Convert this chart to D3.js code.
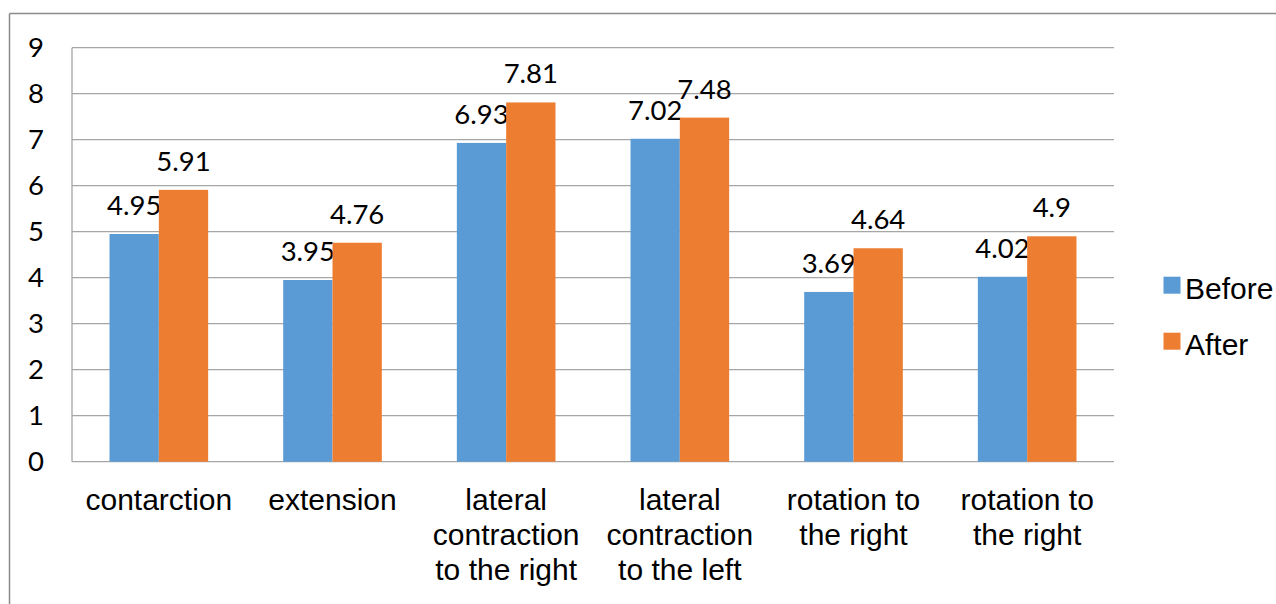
<!DOCTYPE html>
<html><head><meta charset="utf-8">
<script src="https://cdn.jsdelivr.net/npm/d3@7"></script>
<style>html,body{margin:0;padding:0;background:#fff;}svg{display:block;}</style>
</head><body>
<svg id="chart" width="1276" height="604"></svg>
<script>
const categories = [
  ["contarction"],
  ["extension"],
  ["lateral", "contraction", "to the right"],
  ["lateral", "contraction", "to the left"],
  ["rotation to", "the right"],
  ["rotation to", "the right"]
];
const seriesNames = ["Before", "After"];
const beforeValues = [4.95, 3.95, 6.93, 7.02, 3.69, 4.02];
const afterValues = [5.91, 4.76, 7.81, 7.48, 4.64, 4.9];
const yTicks = [0, 1, 2, 3, 4, 5, 6, 7, 8, 9];
const colors = ["#5B9BD5", "#ED7D31"];

const svg = d3.select("#chart");
const W = 1276, H = 604;
const plotLeft = 72, plotRight = 1114, plotTop = 47.7, plotBottom = 461.7;

// outer frame (top and left visible)
svg.append("line").attr("x1", 9.5).attr("x2", W).attr("y1", 13.5).attr("y2", 13.5)
  .attr("stroke", "#8c8c8c").attr("stroke-width", 1.5);
svg.append("line").attr("x1", 9.5).attr("x2", 9.5).attr("y1", 13.5).attr("y2", H)
  .attr("stroke", "#8c8c8c").attr("stroke-width", 1.5);

const idx = d3.range(categories.length);
const x0 = d3.scaleBand().domain(idx).range([plotLeft, plotRight]).paddingInner(0.432).paddingOuter(0.216);
const x1 = d3.scaleBand().domain([0, 1]).range([0, x0.bandwidth()]);
const y = d3.scaleLinear().domain([0, 9]).range([plotBottom, plotTop]);

// gridlines
svg.append("g").selectAll("line").data(yTicks).join("line")
  .attr("x1", plotLeft).attr("x2", plotRight)
  .attr("y1", d => y(d)).attr("y2", d => y(d))
  .attr("stroke", "#a6a6a6").attr("stroke-width", 1.3);

// y axis line
svg.append("line").attr("x1", plotLeft).attr("x2", plotLeft).attr("y1", y(9)).attr("y2", y(0))
  .attr("stroke", "#a6a6a6").attr("stroke-width", 1.3);

// y tick labels
const yAxis = d3.axisLeft(y).tickValues(yTicks).tickSize(0).tickPadding(28).tickFormat(d3.format("d"));
const ga = svg.append("g").attr("transform", `translate(${plotLeft},0)`).call(yAxis);
ga.select(".domain").remove();
ga.selectAll("text").attr("font-family", "Lato, 'Open Sans', sans-serif").attr("font-size", 27.5).attr("fill", "#000");

const series = [beforeValues, afterValues];
series.forEach((vals, s) => {
  const g = svg.append("g");
  g.selectAll("rect").data(vals).join("rect")
    .attr("x", (d, i) => x0(i) + x1(s))
    .attr("width", x1.bandwidth())
    .attr("y", d => y(d))
    .attr("height", d => y(0) - y(d))
    .attr("fill", colors[s]);
  g.selectAll("text").data(vals).join("text")
    .attr("x", (d, i) => x0(i) + x1(s) + x1.bandwidth() / 2)
    .attr("y", d => y(d) - 19)
    .attr("text-anchor", "middle")
    .attr("font-family", "Lato, 'Open Sans', sans-serif")
    .attr("font-size", 27.5)
    .attr("fill", "#000")
    .text(d => String(d));
});

// category labels
const cat = svg.append("g");
categories.forEach((lines, i) => {
  const cx = x0(i) + x0.bandwidth() / 2;
  const t = cat.append("text")
    .attr("x", cx)
    .attr("y", 510)
    .attr("text-anchor", "middle")
    .attr("font-family", "'Liberation Sans', Arial, sans-serif")
    .attr("font-size", 30)
    .attr("fill", "#000");
  lines.forEach((ln, k) => {
    t.append("tspan").attr("x", cx).attr("dy", k === 0 ? 0 : 35).text(ln);
  });
});

// legend
const lg = svg.append("g");
seriesNames.forEach((name, s) => {
  const yy = 276.7 + s * 56;
  lg.append("rect").attr("x", 1163.5).attr("y", yy).attr("width", 17).attr("height", 17).attr("fill", colors[s]);
  lg.append("text").attr("x", 1185).attr("y", yy + 22.5)
    .attr("font-family", "'Liberation Sans', Arial, sans-serif")
    .attr("font-size", 30).attr("fill", "#000").text(name);
});
</script>
</body></html>
